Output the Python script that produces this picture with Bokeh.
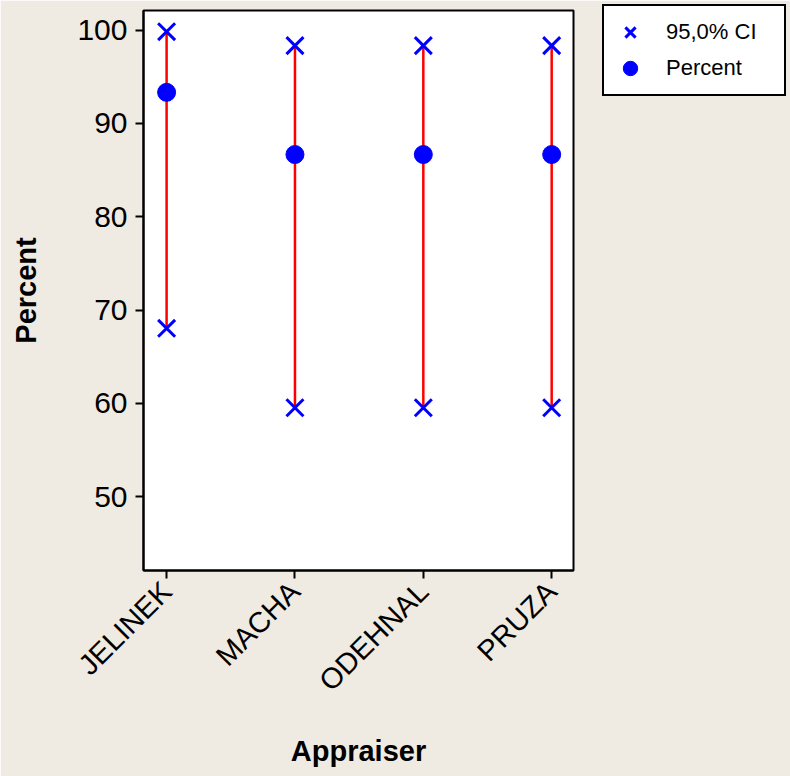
import math
from bokeh.plotting import figure
from bokeh.models import Legend, LegendItem, FixedTicker, Range1d
from bokeh.embed import file_html
from bokeh.resources import INLINE

appraisers = ["JELINEK", "MACHA", "ODEHNAL", "PRUZA"]
percent = [93.33, 86.67, 86.67, 86.67]
ci_lower = [68.05, 59.54, 59.54, 59.54]
ci_upper = [99.83, 98.34, 98.34, 98.34]
y_ticks = [50, 60, 70, 80, 90, 100]

BG = "#EFEBE2"
FONT = "Liberation Sans"

xs = list(range(1, len(appraisers) + 1))

p = figure(frame_width=430, frame_height=560, output_backend="svg", toolbar_location=None,
           x_range=Range1d(0.82, 4.17), y_range=Range1d(42.1, 102.1),
           min_border_left=143, min_border_right=217, min_border_top=10,
           min_border_bottom=206)
p.background_fill_color = "white"
p.border_fill_color = BG
p.outline_line_color = "black"
p.outline_line_width = 2
p.grid.visible = False

p.segment(x0=xs, y0=ci_lower, x1=xs, y1=ci_upper, line_color="red", line_width=2.5)
xu = p.scatter(x=xs, y=ci_upper, marker="x", size=24, line_color="blue", line_width=3)
p.scatter(x=xs, y=ci_lower, marker="x", size=24, line_color="blue", line_width=3)
dots = p.scatter(x=xs, y=percent, marker="circle", size=18, fill_color="blue", line_color="blue")

for ax in (p.xaxis[0], p.yaxis[0]):
    ax.axis_line_width = 2
    ax.axis_line_color = "black"
    ax.major_tick_line_width = 2
    ax.major_tick_in = 0
    ax.major_tick_out = 8
    ax.minor_tick_line_color = None
    ax.axis_label_text_font = FONT
    ax.axis_label_text_font_style = "bold"
    ax.axis_label_text_font_size = "29px"
    ax.axis_label_text_color = "black"
    ax.major_label_text_font = FONT
    ax.major_label_text_color = "black"

p.yaxis.ticker = FixedTicker(ticks=y_ticks)
p.yaxis.major_label_text_font_size = "30px"
p.yaxis.major_label_standoff = 8
p.yaxis.axis_label = "Percent"
p.yaxis.axis_label_standoff = 32

p.xaxis.ticker = FixedTicker(ticks=xs)
p.xaxis.major_label_overrides = {x: name for x, name in zip(xs, appraisers)}
p.xaxis.major_label_orientation = math.pi / 4
p.xaxis.major_label_text_font_size = "29px"
p.xaxis.major_label_standoff = 8
p.xaxis.axis_label = "Appraiser"
p.xaxis.axis_label_standoff = 24

legend = Legend(items=[LegendItem(label="95,0% CI", renderers=[xu]),
                       LegendItem(label="Percent", renderers=[dots])],
                location=(29, 474))
legend.label_text_font = FONT
legend.label_text_font_size = "22px"
legend.label_text_color = "black"
legend.label_width = 110
legend.label_standoff = 18
legend.border_line_color = "black"
legend.border_line_width = 2
legend.border_line_alpha = 1
legend.background_fill_color = "white"
legend.background_fill_alpha = 1
legend.padding = 8
legend.spacing = 0
legend.glyph_width = 36
legend.glyph_height = 36
legend.margin = 0
p.add_layout(legend, "right")

html = file_html(p, INLINE)
html = html.replace("<body>", '<body style="background-color:%s;">' % BG, 1)
open("out.html", "w").write(html)
